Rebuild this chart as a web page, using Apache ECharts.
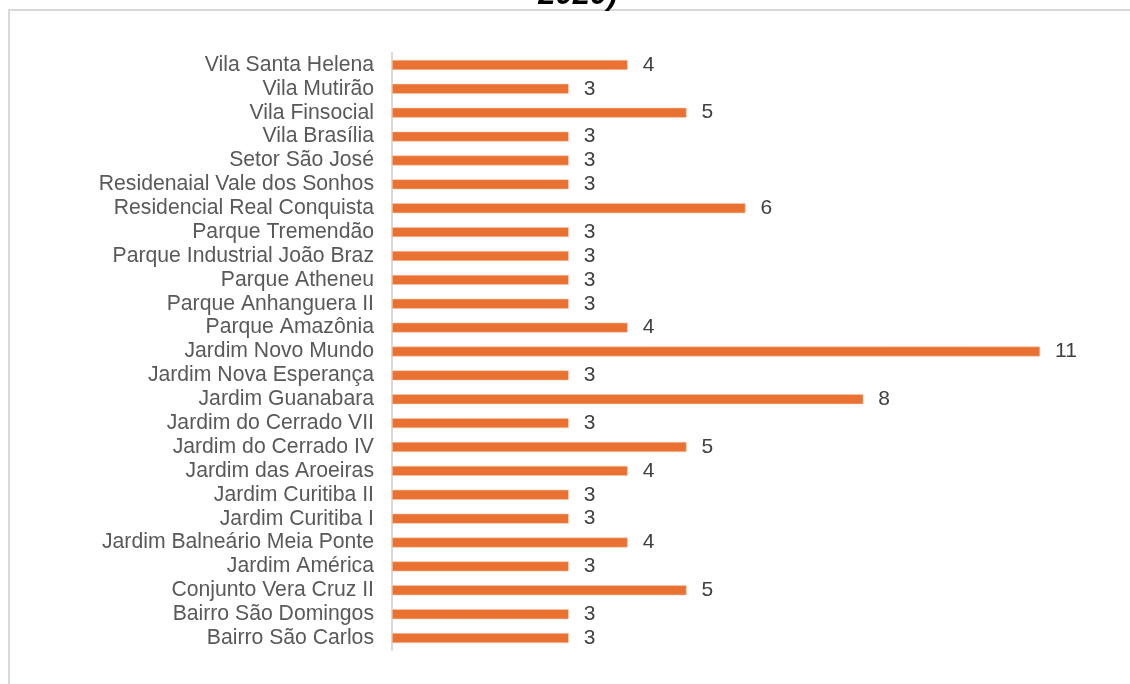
<!DOCTYPE html>
<html>
<head>
<meta charset="utf-8">
<script src="https://cdn.jsdelivr.net/npm/echarts@6/dist/echarts.min.js"></script>
<style>
  html, body { margin: 0; padding: 0; background: #fff; }
  #chart { width: 1130px; height: 684px; }
</style>
</head>
<body>
<div id="chart"></div>
<script>
// bairros, de cima para baixo
const bairros = [
  'Vila Santa Helena', 'Vila Mutirão', 'Vila Finsocial', 'Vila Brasília',
  'Setor São José', 'Residenaial Vale dos Sonhos', 'Residencial Real Conquista',
  'Parque Tremendão', 'Parque Industrial João Braz', 'Parque Atheneu',
  'Parque Anhanguera II', 'Parque Amazônia', 'Jardim Novo Mundo',
  'Jardim Nova Esperança', 'Jardim Guanabara', 'Jardim do Cerrado VII',
  'Jardim do Cerrado IV', 'Jardim das Aroeiras', 'Jardim Curitiba II',
  'Jardim Curitiba I', 'Jardim Balneário Meia Ponte', 'Jardim América',
  'Conjunto Vera Cruz II', 'Bairro São Domingos', 'Bairro São Carlos'
]
const casos = [4, 3, 5, 3, 3, 3, 6, 3, 3, 3, 3, 4, 11, 3, 8, 3, 5, 4, 3, 3, 4, 3, 5, 3, 3]
const tituloVisivel = '2020)'

const chart = echarts.init(document.getElementById('chart'))
chart.setOption({
  animation: false,
  textStyle: { fontFamily: 'Liberation Sans, Arial, sans-serif' },
  graphic: [
    {
      type: 'rect',
      shape: { x: 9, y: 10, width: 1140, height: 700 },
      style: { fill: 'none', stroke: '#d9d9d9', lineWidth: 2 }
    },
    {
      type: 'text',
      x: 578, y: 11,
      style: {
        text: tituloVisivel,
        fontSize: 31, fontWeight: 'bold', fontStyle: 'italic',
        fontFamily: 'Liberation Sans, Arial, sans-serif',
        fill: '#000', textAlign: 'center', textVerticalAlign: 'bottom'
      }
    }
  ],
  grid: { left: 392, top: 53, width: 707, height: 597, containLabel: false },
  xAxis: {
    type: 'value', min: 0, max: 12, show: false,
    splitLine: { show: false }
  },
  yAxis: {
    type: 'category', inverse: true, data: bairros,
    axisLine: { show: true, lineStyle: { color: '#d9d9d9', width: 2 } },
    axisTick: { show: false },
    axisLabel: { color: '#595959', fontSize: 21.2, margin: 18, interval: 0 }
  },
  series: [{
    type: 'bar',
    data: casos,
    barWidth: 10,
    itemStyle: { color: '#E97132', borderColor: '#f6c7ab', borderWidth: 0.6 },
    label: {
      show: true, position: 'right', distance: 15,
      color: '#404040', fontSize: 21
    }
  }]
})
</script>
</body>
</html>
